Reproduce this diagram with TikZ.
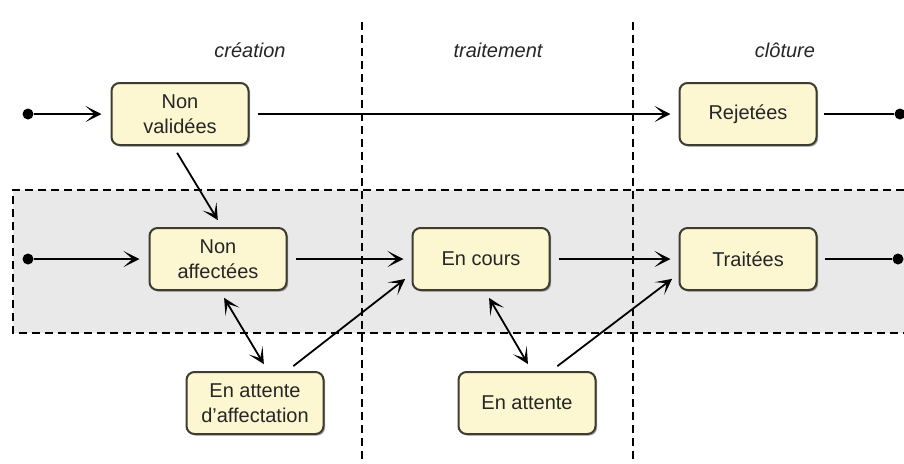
\documentclass[tikz,border=0pt]{standalone}
\usepackage{fontspec}
\setmainfont{Liberation Sans}
\usetikzlibrary{arrows.meta,shadows}

\newlength{\du}
\setlength{\du}{0.5pt}

\definecolor{statefill}{RGB}{252,247,208}
\definecolor{stateline}{RGB}{60,60,48}
\definecolor{bandfill}{RGB}{233,233,233}

\tikzset{
  state/.style={draw=stateline, fill=statefill, line width=1pt, rounded corners=4pt,
    minimum width=137\du, minimum height=62\du, align=center, inner sep=1pt,
    text=black!85, font=\fontsize{10}{12.5}\selectfont,
    drop shadow={shadow xshift=0.8pt, shadow yshift=-0.8pt, opacity=0.35, fill=black}},
  phase/.style={text=black!85, font=\fontsize{10}{12}\selectfont\itshape},
  tip/.tip={Stealth[length=8pt, width=8pt, inset=4.5pt]},
  trans/.style={line width=0.9pt, -tip, shorten <=4pt, shorten >=4pt},
  both/.style={trans, tip-tip},
  border/.style={line width=0.75pt, dash pattern=on 4pt off 2.5pt},
  dot/.style={circle, fill=black, inner sep=0pt, minimum size=5.5pt}
}

\begin{document}
\begin{tikzpicture}[x=1\du, y=-1\du]
\useasboundingbox (0,0) rectangle (904,463);

% band of the open requests
\fill[bandfill] (13,190) rectangle (904,333);
\draw[border] (904,190) -- (13,190) -- (13,333) -- (904,333);

% phases
\draw[border] (362,22) -- (362,463);
\draw[border] (633,22) -- (633,463);
\node[phase] (creation) at (250,50) {création};
\node[phase] (traitement) at (498,50) {traitement};
\node[phase] (cloture) at (785,50) {clôture};

% states
\node[state] (nv) at (180,114) {Non\\validées};
\node[state] (rj) at (748,114) {Rejetées};
\node[state] (na) at (218,259) {Non\\affectées};
\node[state] (ec) at (481,259) {En cours};
\node[state] (tr) at (748,259) {Traitées};
\node[state] (ea) at (255,403) {En attente\\d'affectation};
\node[state] (et) at (527,403) {En attente};

% start and end points
\node[dot] (start1) at (28,114) {};
\node[dot] (start2) at (28,259) {};
\node[dot] (end1) at (900,114) {};
\node[dot] (end2) at (898,259) {};

% transitions
\draw[trans, shorten <=0pt, shorten >=4.5pt] (start1) -- (nv);
\draw[trans] (nv) -- (rj);
\draw[line width=0.9pt, shorten <=3pt] (rj) -- (end1);
\draw[trans] ([xshift=-3.5pt]nv.south) -- ([xshift=2pt]na.north);
\draw[trans, shorten <=0pt, shorten >=4.5pt] (start2) -- (na);
\draw[trans] (na) -- (ec);
\draw[trans] (ec) -- (tr);
\draw[line width=0.9pt, shorten <=3.5pt] (tr) -- (end2);
\draw[both] ([xshift=1pt]na.south) -- ([xshift=6.5pt]ea.north);
\draw[trans] ([xshift=16pt]ea.north) -- ([yshift=-7.5pt]ec.west);
\draw[both] ([xshift=2pt]ec.south) -- ([xshift=2.5pt]et.north);
\draw[trans] ([xshift=12pt]et.north) -- ([yshift=-7.5pt]tr.west);
\end{tikzpicture}
\end{document}
